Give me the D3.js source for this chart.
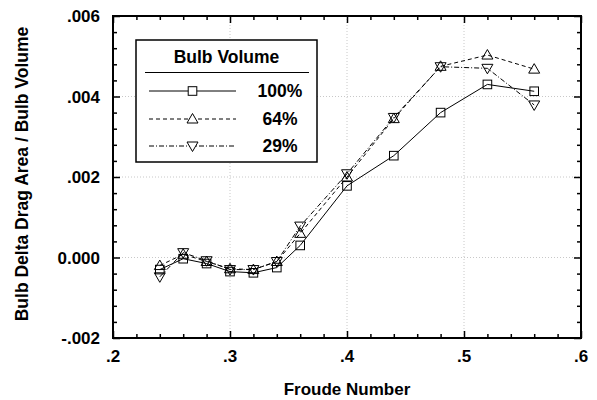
<!DOCTYPE html>
<html><head><meta charset="utf-8">
<script src="https://cdn.jsdelivr.net/npm/d3@7"></script>
<style>body{margin:0;background:#fff}svg{display:block}text{font-family:"Liberation Sans",Arial,sans-serif;font-weight:bold}</style>
</head><body><svg id="c" width="597" height="400"></svg>
<script>
const froude = [0.24,0.26,0.28,0.30,0.32,0.34,0.36,0.40,0.44,0.48,0.52,0.56];
const vol100 = [-0.0003,-0.00003,-0.00015,-0.00035,-0.00038,-0.00025,0.0003,0.00178,0.00253,0.0036,0.0043,0.00413];
const vol64  = [-0.0002,0.00008,-0.0001,-0.00028,-0.0003,-0.0001,0.0006,0.002,0.00345,0.00475,0.00503,0.00468];
const vol29  = [-0.00048,0.00012,-0.00008,-0.0003,-0.0003,-0.0001,0.00078,0.00208,0.00348,0.00474,0.0047,0.00379];
const seriesNames = ["100%","64%","29%"];
const xTicks = [0.2,0.3,0.4,0.5,0.6];
const xTickLabels = [".2",".3",".4",".5",".6"];
const yTicks = [-0.002,0,0.002,0.004,0.006];
const yTickLabels = ["-.002","0.000",".002",".004",".006"];

const L=113,R=581,T=16,B=338;
const svg=d3.select("#c");
const x=d3.scaleLinear().domain([0.2,0.6]).range([L,R]);
const y=d3.scaleLinear().domain([-0.002,0.006]).range([B,T]);

// gridlines
const g=svg.append("g");
g.selectAll(".gx").data(xTicks.slice(1,-1)).enter().append("line")
 .attr("x1",d=>x(d)).attr("x2",d=>x(d)).attr("y1",T).attr("y2",B)
 .attr("stroke","#c8c8c8").attr("stroke-dasharray","1,2");
g.selectAll(".gy").data(yTicks.slice(1,-1)).enter().append("line")
 .attr("y1",d=>y(d)).attr("y2",d=>y(d)).attr("x1",L).attr("x2",R)
 .attr("stroke","#c8c8c8").attr("stroke-dasharray","1,2");

// axes with inward ticks
const xMinor=d3.range(0.2,0.6001,0.02).map(v=>+v.toFixed(2));
const yMinor=d3.range(-0.002,0.00601,0.0004).map(v=>+v.toFixed(4));
function isMajorX(v){return xTicks.some(t=>Math.abs(t-v)<1e-9);}
function isMajorY(v){return yTicks.some(t=>Math.abs(t-v)<1e-9);}
const axB=d3.axisBottom(x).tickValues(xMinor).tickSizeInner(0).tickSizeOuter(0).tickFormat("");
const axT=d3.axisTop(x).tickValues(xMinor).tickSizeInner(0).tickSizeOuter(0).tickFormat("");
const axL=d3.axisLeft(y).tickValues(yMinor).tickSizeInner(0).tickSizeOuter(0).tickFormat("");
const axR=d3.axisRight(y).tickValues(yMinor).tickSizeInner(0).tickSizeOuter(0).tickFormat("");
function styleTicks(sel,dir,isMaj){
  sel.selectAll(".domain").remove();
  sel.selectAll(".tick line").each(function(d){
    const len=isMaj(d)?7:4;
    const l=d3.select(this).attr("stroke","#000").attr("stroke-width",1.5);
    if(dir==="b") l.attr("y1",0).attr("y2",-len);
    if(dir==="t") l.attr("y1",0).attr("y2",len);
    if(dir==="l") l.attr("x1",0).attr("x2",len);
    if(dir==="r") l.attr("x1",0).attr("x2",-len);
  });
}
styleTicks(svg.append("g").attr("transform",`translate(0,${B})`).call(axB),"b",isMajorX);
styleTicks(svg.append("g").attr("transform",`translate(0,${T})`).call(axT),"t",isMajorX);
styleTicks(svg.append("g").attr("transform",`translate(${L},0)`).call(axL),"l",isMajorY);
styleTicks(svg.append("g").attr("transform",`translate(${R},0)`).call(axR),"r",isMajorY);

svg.append("rect").attr("x",L).attr("y",T).attr("width",R-L).attr("height",B-T)
 .attr("fill","none").attr("stroke","#000").attr("stroke-width",2);

// tick labels
svg.selectAll(".xl").data(xTicks).enter().append("text")
 .attr("x",d=>x(d)).attr("y",362).attr("text-anchor","middle").attr("font-size",17).text((d,i)=>xTickLabels[i]);
svg.selectAll(".yl").data(yTicks).enter().append("text")
 .attr("x",100).attr("y",d=>y(d)+6).attr("text-anchor","end").attr("font-size",17).text((d,i)=>yTickLabels[i]);

svg.append("text").attr("x",(L+R)/2).attr("y",395).attr("text-anchor","middle").attr("font-size",17).text("Froude Number");
svg.append("text").attr("transform",`translate(28,174) rotate(-90)`).attr("text-anchor","middle").attr("font-size",17.5).text("Bulb Delta Drag Area / Bulb Volume");

// series
const dashes=[null,"4,3","5,2,1,2"];
const sym=[
  s=>s.append("rect").attr("x",-4.3).attr("y",-4.3).attr("width",8.6).attr("height",8.6),
  s=>s.append("path").attr("d","M0,-5.5L5.5,4L-5.5,4Z"),
  s=>s.append("path").attr("d","M0,5.5L5.5,-4L-5.5,-4Z")
];
const allSeries=[vol100,vol64,vol29];
const line=d3.line().x(d=>x(d[0])).y(d=>y(d[1]));
allSeries.forEach((vals,i)=>{
  const pts=froude.map((f,j)=>[f,vals[j]]);
  svg.append("path").datum(pts).attr("d",line).attr("fill","none").attr("stroke","#000")
    .attr("stroke-width",1).attr("stroke-dasharray",dashes[i]);
});
allSeries.forEach((vals,i)=>{
  froude.forEach((f,j)=>{
    const m=svg.append("g").attr("transform",`translate(${x(f)},${y(vals[j])})`);
    sym[i](m).attr("fill","#fff").attr("fill-opacity",0).attr("stroke","#000").attr("stroke-width",1);
  });
});

// legend
const lg=svg.append("g");
lg.append("rect").attr("x",136).attr("y",40).attr("width",181).attr("height",122)
 .attr("fill","#fff").attr("stroke","#000").attr("stroke-width",1.5);
lg.append("text").attr("x",226.5).attr("y",63).attr("text-anchor","middle").attr("font-size",17.5).text("Bulb Volume");
lg.append("line").attr("x1",145).attr("x2",309).attr("y1",72.5).attr("y2",72.5).attr("stroke","#000").attr("stroke-width",1);
const rowY=[91,119,146];
seriesNames.forEach((n,i)=>{
  lg.append("line").attr("x1",149).attr("x2",236).attr("y1",rowY[i]).attr("y2",rowY[i])
    .attr("stroke","#000").attr("stroke-width",1).attr("stroke-dasharray",dashes[i]);
  const m=lg.append("g").attr("transform",`translate(192.5,${rowY[i]})`);
  sym[i](m).attr("fill","#fff").attr("stroke","#000").attr("stroke-width",1);
  lg.append("text").attr("x",280).attr("y",rowY[i]+6).attr("text-anchor","middle").attr("font-size",17.5).text(n);
});
</script></body></html>
